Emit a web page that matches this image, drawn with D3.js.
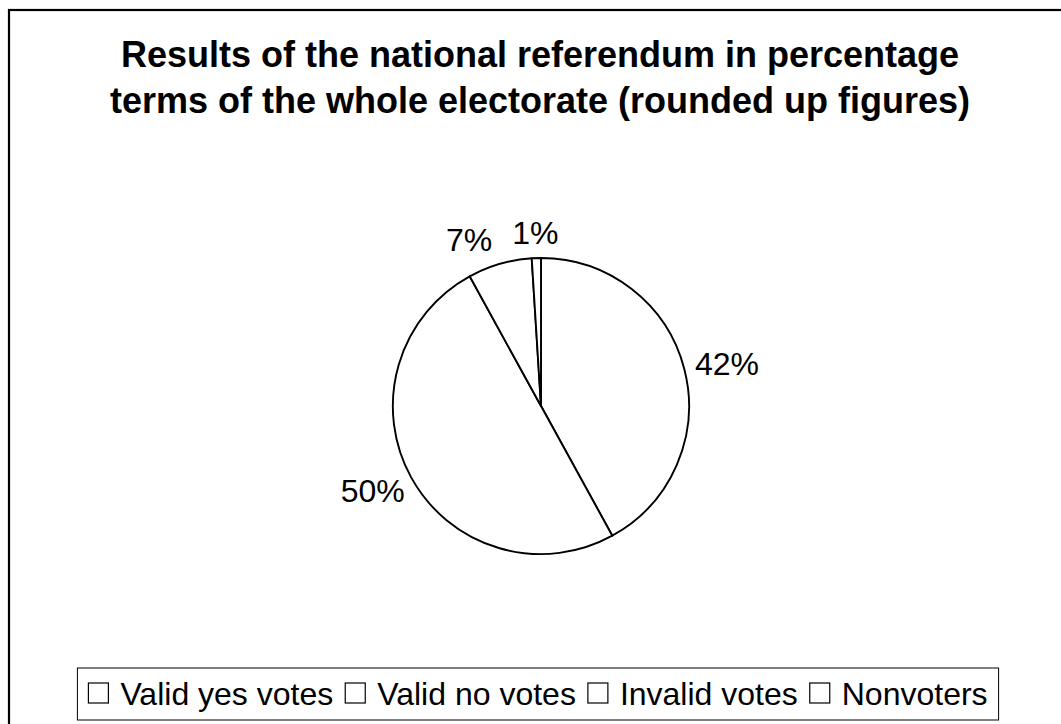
<!DOCTYPE html>
<html>
<head>
<meta charset="utf-8">
<script src="https://cdn.jsdelivr.net/npm/d3@7"></script>
<style>
  body { margin: 0; background: #fff; }
  svg { display: block; font-family: Arial, "Liberation Sans", sans-serif; }
</style>
</head>
<body>
<div id="chart"></div>
<script>
var width = 1061;
var height = 724;

// data
var categories = ["Valid yes votes", "Valid no votes", "Invalid votes", "Nonvoters"];
var shares = [42, 50, 7, 1];
var sliceColors = ["#ffffff", "#ffffff", "#ffffff", "#ffffff"];
var titleLines = [
  "Results of the national referendum in percentage",
  "terms of the whole electorate (rounded up figures)"
];

var cx = 541, cy = 406, radius = 148;

var svg = d3.select("#chart").append("svg")
  .attr("width", width)
  .attr("height", height);

// outer chart frame (runs off the right/bottom edge like the original)
svg.append("rect")
  .attr("x", 9).attr("y", 10)
  .attr("width", 1080).attr("height", 740)
  .attr("fill", "#fff")
  .attr("stroke", "#000")
  .attr("stroke-width", 2.2);

// title
svg.append("g").selectAll("text")
  .data(titleLines)
  .enter().append("text")
    .attr("x", 540)
    .attr("y", function(d, i) { return 67 + i * 46; })
    .attr("text-anchor", "middle")
    .style("font-size", "36px")
    .style("font-weight", "bold")
    .text(function(d) { return d; });

var data = categories.map(function(c, i) {
  return { label: c, value: shares[i], color: sliceColors[i] };
});

var pie = d3.pie().sort(null).value(function(d) { return d.value; });
var arc = d3.arc().innerRadius(0).outerRadius(radius);
var labelArc = d3.arc().innerRadius(radius + 12).outerRadius(radius + 12);

var arcs = pie(data);

var g = svg.append("g").attr("transform", "translate(" + cx + "," + cy + ")");

g.selectAll("path")
  .data(arcs)
  .enter().append("path")
    .attr("d", arc)
    .attr("fill", function(d) { return d.data.color; })
    .attr("stroke", "#000")
    .attr("stroke-width", 1.9)
    .attr("stroke-linejoin", "round");

// data labels, outside end
var labels = g.selectAll("text.lbl")
  .data(arcs)
  .enter().append("text")
    .attr("class", "lbl")
    .attr("text-anchor", "middle")
    .style("font-size", "32px")
    .text(function(d) { return d.data.value + "%"; });

var boxes = [];
labels.each(function(d) {
  var w = this.getComputedTextLength();
  var h = 28;
  var mid = (d.startAngle + d.endAngle) / 2;
  var p = labelArc.centroid(d);
  var bx = p[0] + Math.sin(mid) * w / 2;
  var by = p[1] - Math.cos(mid) * h / 2;
  boxes.push({ node: this, x: bx, y: by, w: w, h: h });
});

// simple overlap fix: push the earlier label left when two collide
for (var i = boxes.length - 1; i > 0; i--) {
  var a = boxes[i - 1], b = boxes[i];
  var pad = 20;
  var overlapX = (a.x + a.w / 2 + pad) - (b.x - b.w / 2);
  var overlapY = Math.abs(a.y - b.y) < (a.h + b.h) / 2;
  if (overlapX > 0 && overlapY && a.x < b.x) {
    a.x -= overlapX;
  }
}

boxes.forEach(function(b) {
  d3.select(b.node)
    .attr("x", b.x)
    .attr("y", b.y + 12);
});

// legend
var legend = svg.append("g");
var legendFrame = legend.append("rect")
  .attr("fill", "#fff")
  .attr("stroke", "#000")
  .attr("stroke-width", 1);

var items = legend.selectAll("g.item")
  .data(data)
  .enter().append("g")
    .attr("class", "item");

items.append("rect")
  .attr("width", 20).attr("height", 20)
  .attr("y", 683)
  .attr("fill", function(d) { return d.color; })
  .attr("stroke", "#000")
  .attr("stroke-width", 1.2);

items.append("text")
  .attr("y", 705)
  .style("font-size", "32px")
  .text(function(d) { return d.label; });

var xpos = 0;
var offsets = [];
items.each(function() {
  var tw = d3.select(this).select("text").node().getComputedTextLength();
  offsets.push(xpos);
  xpos += 20 + 12 + tw + 12;
});
var totalW = xpos - 12;
var startX = 538 - totalW / 2;

items.each(function(d, i) {
  var el = d3.select(this);
  el.select("rect").attr("x", startX + offsets[i]);
  el.select("text").attr("x", startX + offsets[i] + 32);
});

legendFrame
  .attr("x", startX - 11)
  .attr("y", 668)
  .attr("width", totalW + 22)
  .attr("height", 52);
</script>
</body>
</html>
